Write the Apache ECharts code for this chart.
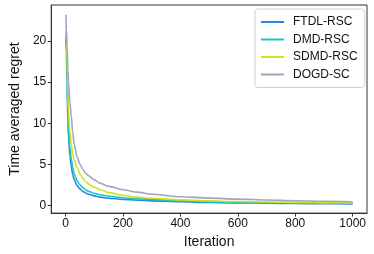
<!DOCTYPE html>
<html>
<head>
<meta charset="utf-8">
<script src="https://cdn.jsdelivr.net/npm/echarts@6/dist/echarts.min.js"></script>
<style>html,body{margin:0;padding:0;background:#fff}#c{width:374px;height:254px}</style>
</head>
<body>
<div id="c"></div>
<script>
const iterations = [1,3,5,8,10,15,20,25,30,40,50,60,70,80,100,120,150,200,250,300,400,500,600,700,800,900,1000];
const ftdl = [20.5,18.5,15,10,8.4,6.0,4.7,3.7,3.1,2.4,2.0,1.7,1.5,1.35,1.15,1.0,0.86,0.72,0.62,0.54,0.43,0.35,0.3,0.26,0.22,0.2,0.17];
const dmd  = [21,19,16,11.5,9.8,7.0,5.6,4.6,3.8,3.0,2.5,2.15,1.9,1.7,1.45,1.28,1.1,0.92,0.8,0.7,0.55,0.45,0.38,0.33,0.29,0.26,0.23];
const sdmd = [22,20,17.5,13.5,11.5,9,7.3,6.2,5.5,4.6,3.8,3.3,2.9,2.6,2.2,1.9,1.55,1.22,1.0,0.85,0.66,0.54,0.46,0.40,0.36,0.32,0.29];
const dogd = [23.2,21.5,19.5,16.5,15,12.5,10.8,8.8,7.4,5.9,5.0,4.4,3.9,3.6,3.1,2.7,2.3,1.9,1.6,1.35,1.05,0.87,0.75,0.65,0.56,0.49,0.43];
const xTicks = [0,200,400,600,800,1000];
const yTicks = [0,5,10,15,20];
const names = ['FTDL-RSC','DMD-RSC','SDMD-RSC','DOGD-SC'];
const colors = ['#2a86e8','#19c9b4','#c9e61c','#a4a3c2'];
const seriesData = [ftdl, dmd, sdmd, dogd];

const font = '"Liberation Sans", Arial, sans-serif';
const chart = echarts.init(document.getElementById('c'), null, {renderer:'canvas'});
chart.setOption({
  animation:false,
  grid:{left:42,right:7,top:5,bottom:40,show:true,borderColor:'#333',borderWidth:1,containLabel:false},
  legend:{
    orient:'vertical', left:255, top:9,
    padding:[6,7,6,6], borderColor:'#d0d0d0', borderWidth:1, borderRadius:3,
    itemWidth:23, itemHeight:2, itemGap:3.5, icon:'rect',
    textStyle:{fontFamily:font, fontSize:12, color:'#111', lineHeight:14, padding:[0,0,0,4]},
    data:names
  },
  xAxis:{
    type:'value', min:-50, max:1050,
    name:'Iteration', nameLocation:'middle', nameGap:19,
    nameTextStyle:{fontFamily:font, fontSize:14, color:'#111'},
    axisLine:{show:true,onZero:false,lineStyle:{color:'#333'}},
    axisTick:{show:true,length:3.5,lineStyle:{color:'#333'},customValues:xTicks},
    axisLabel:{fontFamily:font,fontSize:12,color:'#111',margin:5,customValues:xTicks,formatter:v=>String(v)},
    splitLine:{show:false}
  },
  yAxis:{
    type:'value', min:-0.95, max:24.4,
    name:'Time averaged regret', nameLocation:'middle', nameGap:24,
    nameTextStyle:{fontFamily:font, fontSize:14, color:'#111'},
    axisLine:{show:true,onZero:false,lineStyle:{color:'#333'}},
    axisTick:{show:true,length:3.5,lineStyle:{color:'#333'},customValues:yTicks},
    axisLabel:{fontFamily:font,fontSize:12,color:'#111',margin:5,customValues:yTicks,formatter:v=>String(v)},
    splitLine:{show:false}
  },
  series: names.map((n,i)=>({
    name:n, type:'line', showSymbol:false, symbol:'none',
    smooth:0.35, smoothMonotone:'x',
    lineStyle:{width:1.6,color:colors[i]}, itemStyle:{color:colors[i]},
    data: iterations.map((t,k)=>[t, seriesData[i][k]])
  }))
});
</script>
</body>
</html>
